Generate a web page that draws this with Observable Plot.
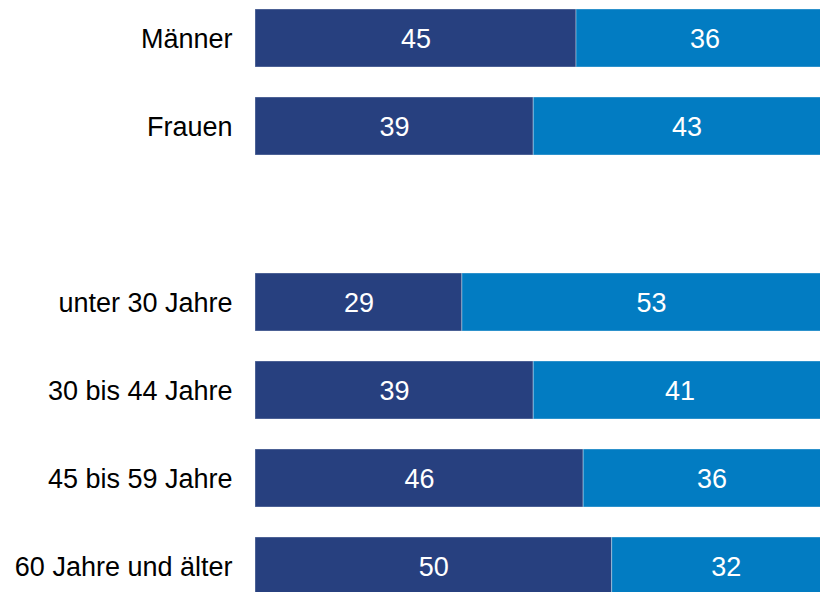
<!DOCTYPE html>
<html>
<head>
<meta charset="utf-8">
<script src="https://cdn.jsdelivr.net/npm/d3@7"></script>
<script src="https://cdn.jsdelivr.net/npm/@observablehq/plot@0.6"></script>
<style>
  html, body { margin: 0; padding: 0; background: #fff; overflow: hidden; }
  #chart { width: 820px; height: 592px; overflow: hidden; }
  #chart svg { overflow: hidden; }
</style>
</head>
<body>
<div id="chart"></div>
<script>
const categories = ["Männer", "Frauen", "", "unter 30 Jahre", "30 bis 44 Jahre", "45 bis 59 Jahre", "60 Jahre und älter"];
const seriesNames = ["Serie 1", "Serie 2"];
const series1 = [45, 39, null, 29, 39, 46, 50];
const series2 = [36, 43, null, 53, 41, 36, 32];
const colors = ["#27407f", "#027cc2"];

const rows = [];
categories.forEach((c, i) => {
  if (series1[i] != null) rows.push({cat: c, series: seriesNames[0], value: series1[i]});
  if (series2[i] != null) rows.push({cat: c, series: seriesNames[1], value: series2[i]});
});

const chart = Plot.plot({
  width: 820,
  height: 592,
  marginLeft: 255,
  marginRight: 0,
  marginTop: 0,
  marginBottom: 0,
  style: {fontFamily: "'Liberation Sans', Arial, sans-serif", background: "#fff"},
  x: {domain: [0, 79.2], axis: null},
  y: {domain: categories, range: [-6, 610], paddingInner: 0.34, paddingOuter: 0.17, label: null,
      tickSize: 0, tickPadding: 23, tickFormat: d => d},
  color: {domain: seriesNames, range: colors},
  marks: [
    Plot.barX(rows, Plot.stackX({x: "value", y: "cat", z: "series", fill: "series", order: null,
      stroke: "#ffffff", strokeOpacity: 0.35, strokeWidth: 1})),
    Plot.text(rows, Plot.stackX({x: "value", y: "cat", z: "series", order: null,
      text: d => String(d.value), fill: "white", fontSize: 27, dy: 1})),
    Plot.axisY({tickSize: 0, tickPadding: 23, fontSize: 27, fill: "#000", label: null, tickFormat: d => d, dy: 1})
  ]
});
document.getElementById("chart").appendChild(chart);
</script>
</body>
</html>
